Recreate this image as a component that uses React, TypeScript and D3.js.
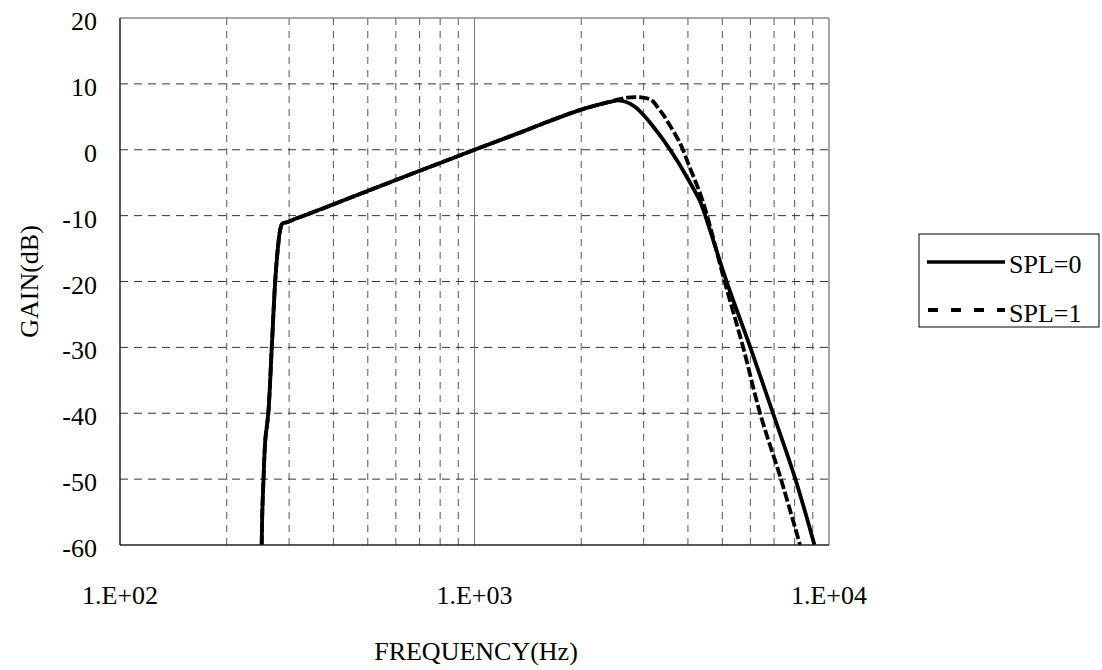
import React from "react";
import * as d3 from "d3";

const yTicks = [20, 10, 0, -10, -20, -30, -40, -50, -60];
const xMajor = [100, 1000, 10000];
const xMajorLabels = ["1.E+02", "1.E+03", "1.E+04"];
const xMinor = [200, 300, 400, 500, 600, 700, 800, 900, 2000, 3000, 4000, 5000, 6000, 7000, 8000, 9000];

const freqSpl0 = [251, 252, 254, 257, 262, 268, 274, 279, 283, 287, 296, 315, 350, 446, 600, 800, 1000, 1343, 1600, 2000, 2300, 2450, 2530, 2620, 2745, 2870, 2994, 3194, 3409, 3720, 3968, 4326, 4470, 4616, 5157, 5988, 6951, 8017, 9100];
const gainSpl0 = [-60, -55, -50, -44, -40, -30, -20, -14.8, -12.2, -11.2, -11.0, -10.4, -9.5, -7.3, -4.6, -2.0, 0, 2.6, 4.2, 6.1, 7.0, 7.35, 7.5, 7.4, 7.0, 6.3, 5.3, 3.5, 1.5, -1.55, -4.1, -7.8, -9.9, -12.2, -20.2, -29.9, -40, -49.8, -60];

const freqSpl1 = [251, 252, 254, 257, 262, 268, 274, 279, 283, 287, 296, 315, 350, 446, 600, 800, 1000, 1343, 1600, 2000, 2300, 2530, 2687, 2850, 2994, 3127, 3194, 3300, 3409, 3484, 3800, 4055, 4326, 4519, 5089, 5720, 6390, 7300, 8284];
const gainSpl1 = [-60, -55, -50, -44, -40, -30, -20, -14.8, -12.2, -11.2, -11.0, -10.4, -9.5, -7.3, -4.6, -2.0, 0, 2.6, 4.2, 6.1, 7.0, 7.6, 7.9, 8.0, 7.9, 7.65, 7.3, 6.3, 5.3, 4.5, 1.0, -2.8, -6.6, -9.8, -20.2, -29.9, -40, -49.8, -60];

const seriesNames = ["SPL=0", "SPL=1"];

const W = 1102;
const H = 670;
const left = 120;
const right = 829;
const top = 18;
const bottom = 545;
const font = "Liberation Serif, Times New Roman, Times, DejaVu Serif, serif";
const ts: React.CSSProperties = { fontFamily: font, fontSize: "26px" };

export default function App() {
  const x = d3.scaleLog().domain([100, 10000]).range([left, right]);
  const y = d3.scaleLinear().domain([-60, 20]).range([bottom, top]);
  const line = d3
    .line<[number, number]>()
    .x((d) => x(d[0]))
    .y((d) => y(d[1]))
    .curve(d3.curveCatmullRom.alpha(0.5));
  const d0 = line(freqSpl0.map((f, i) => [f, gainSpl0[i]] as [number, number])) || "";
  const d1 = line(freqSpl1.map((f, i) => [f, gainSpl1[i]] as [number, number])) || "";

  return (
    <svg width={W} height={H} style={{ position: "absolute", left: 0, top: 0, background: "#fff" }}>
      <rect x={0} y={0} width={W} height={H} fill="#fff" />
      <defs>
        <clipPath id="plotclip">
          <rect x={left} y={top} width={right - left} height={bottom - top} />
        </clipPath>
      </defs>
      {xMinor.map((f) => (
        <line key={"vx" + f} x1={x(f)} x2={x(f)} y1={top} y2={bottom} stroke="#555" strokeWidth={1} strokeDasharray="7,6" />
      ))}
      {yTicks.filter((v) => v !== 20 && v !== -60).map((v) => (
        <line key={"hy" + v} x1={left} x2={right} y1={y(v)} y2={y(v)} stroke="#333" strokeWidth={1} strokeDasharray="8,6" />
      ))}
      <line x1={x(1000)} x2={x(1000)} y1={top} y2={bottom} stroke="#777" strokeWidth={1} />
      <line x1={left} x2={right} y1={top} y2={top} stroke="#888" strokeWidth={1.5} />
      <line x1={right} x2={right} y1={top} y2={bottom} stroke="#888" strokeWidth={1.5} />
      <g clipPath="url(#plotclip)">
        <path d={d0} fill="none" stroke="#000" strokeWidth={3.8} strokeLinejoin="round" />
        <path d={d1} fill="none" stroke="#000" strokeWidth={3.8} strokeDasharray="10,3" />
      </g>
      <line x1={left} x2={left} y1={top} y2={bottom} stroke="#222" strokeWidth={1.5} />
      <line x1={left} x2={right} y1={bottom} y2={bottom} stroke="#222" strokeWidth={1.5} />
      {yTicks.map((v) => (
        <text key={"yl" + v} x={97} y={y(v) + 12} textAnchor="end" style={ts} fill="#000">
          {v}
        </text>
      ))}
      {xMajor.map((f, i) => (
        <text key={"xl" + f} x={x(f)} y={604} textAnchor="middle" style={ts} fill="#000">
          {xMajorLabels[i]}
        </text>
      ))}
      <text x={476} y={660} textAnchor="middle" style={ts} fill="#000">
        FREQUENCY(Hz)
      </text>
      <text transform={`translate(38,${(top + bottom) / 2}) rotate(-90)`} textAnchor="middle" style={ts} fill="#000">
        GAIN(dB)
      </text>
      <rect x={919} y={234} width={180} height={93} fill="#fff" stroke="#000" strokeWidth={1} />
      <line x1={927} x2={1005} y1={262} y2={262} stroke="#000" strokeWidth={3.5} />
      <line x1={928} x2={1005} y1={310} y2={310} stroke="#000" strokeWidth={4} strokeDasharray="10,13" />
      <text x={1009} y={273} style={ts} fill="#000">{seriesNames[0]}</text>
      <text x={1009} y={322} style={ts} fill="#000">{seriesNames[1]}</text>
    </svg>
  );
}
